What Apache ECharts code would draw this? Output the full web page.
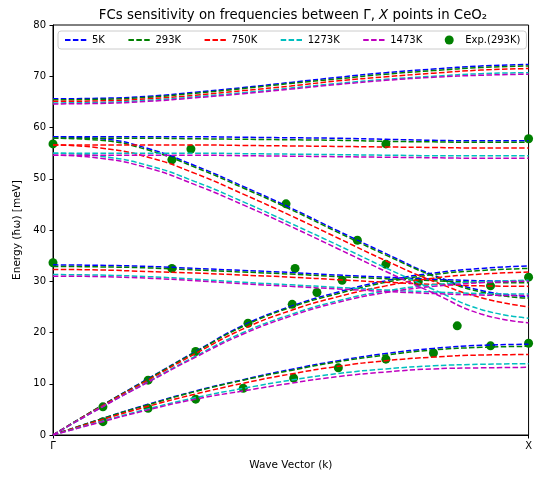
<!DOCTYPE html>
<html>
<head>
<meta charset="utf-8">
<script src="https://cdn.jsdelivr.net/npm/echarts@6/dist/echarts.min.js"></script>
<style>
  html, body { margin: 0; padding: 0; background: #fff; }
  #chart { width: 535px; height: 481px; }
</style>
</head>
<body>
<div id="chart"></div>
<script>
// wave vector from Gamma (0) to X (1)
var kPoints = [0, 0.1, 0.2, 0.3, 0.4, 0.5, 0.6, 0.7, 0.8, 0.9, 1.0];
var xTickLabels = ['Γ', 'X'];
var temps = ['5K', '293K', '750K', '1273K', '1473K'];

// branches per temperature: TA, LA, TO, falling optical, flat optical, top optical  [meV]
var bands5K = [
  [0, 3.1, 6.0, 8.6, 10.8, 12.8, 14.5, 15.9, 16.9, 17.5, 17.7],
  [0, 5.6, 11.0, 16.3, 21.4, 25.1, 27.9, 30.1, 31.6, 32.5, 33.0],
  [33.2, 33.1, 32.9, 32.5, 32.1, 31.7, 31.2, 30.8, 30.4, 30.1, 30.0],
  [58.2, 57.8, 55.9, 52.5, 48.5, 44.3, 39.8, 35.4, 31.2, 28.2, 27.0],
  [58.2, 58.2, 58.2, 58.2, 58.1, 58.0, 57.9, 57.7, 57.5, 57.4, 57.4],
  [65.6, 65.7, 66.1, 66.9, 67.8, 68.8, 69.8, 70.7, 71.4, 72.0, 72.3]
];
var bands293K = [
  [0, 3.1, 5.9, 8.5, 10.7, 12.6, 14.3, 15.6, 16.6, 17.1, 17.3],
  [0, 5.6, 10.9, 16.2, 21.2, 24.9, 27.6, 29.8, 31.3, 32.1, 32.5],
  [32.9, 32.8, 32.6, 32.2, 31.8, 31.4, 30.9, 30.5, 30.1, 29.8, 29.7],
  [57.9, 57.5, 55.6, 52.2, 48.2, 44.0, 39.5, 35.1, 31.0, 27.9, 26.7],
  [57.9, 57.9, 57.9, 57.8, 57.7, 57.6, 57.5, 57.3, 57.2, 57.1, 57.1],
  [65.4, 65.5, 65.9, 66.7, 67.6, 68.6, 69.5, 70.4, 71.1, 71.7, 72.0]
];
var bands750K = [
  [0, 2.9, 5.6, 8.0, 10.1, 11.9, 13.4, 14.5, 15.2, 15.6, 15.7],
  [0, 5.5, 10.7, 15.9, 20.7, 24.3, 27.0, 29.1, 30.6, 31.4, 31.8],
  [32.3, 32.2, 31.9, 31.6, 31.2, 30.8, 30.3, 29.8, 29.4, 29.1, 29.0],
  [56.6, 56.0, 54.2, 51.0, 47.0, 42.8, 38.4, 34.0, 30.0, 26.8, 25.0],
  [56.6, 56.6, 56.6, 56.6, 56.5, 56.4, 56.3, 56.2, 56.1, 56.0, 56.0],
  [65.1, 65.2, 65.6, 66.3, 67.2, 68.1, 69.1, 69.9, 70.6, 71.2, 71.5]
];
var bands1273K = [
  [0, 2.6, 5.1, 7.3, 9.1, 10.7, 12.0, 12.9, 13.5, 13.8, 13.9],
  [0, 5.3, 10.4, 15.4, 20.0, 23.5, 26.2, 28.1, 29.3, 29.9, 30.2],
  [31.3, 31.2, 30.9, 30.4, 29.8, 29.3, 28.8, 28.3, 27.9, 27.6, 27.5],
  [55.0, 54.4, 52.6, 49.4, 45.5, 41.3, 37.0, 32.6, 28.4, 24.5, 22.8],
  [55.0, 55.0, 55.0, 55.0, 54.9, 54.8, 54.7, 54.6, 54.5, 54.5, 54.5],
  [64.8, 64.9, 65.3, 66.0, 66.8, 67.7, 68.6, 69.4, 70.0, 70.5, 70.7]
];
var bands1473K = [
  [0, 2.5, 4.9, 7.0, 8.6, 10.1, 11.4, 12.3, 12.9, 13.1, 13.2],
  [0, 5.3, 10.3, 15.2, 19.7, 23.2, 25.9, 27.8, 29.0, 29.7, 30.0],
  [31.0, 30.9, 30.6, 30.1, 29.5, 29.0, 28.5, 28.0, 27.6, 27.3, 27.2],
  [54.6, 54.0, 52.1, 48.8, 44.9, 40.7, 36.3, 31.9, 27.7, 23.6, 21.9],
  [54.6, 54.6, 54.6, 54.6, 54.5, 54.4, 54.3, 54.2, 54.1, 54.0, 54.0],
  [64.6, 64.7, 65.1, 65.8, 66.6, 67.5, 68.4, 69.2, 69.8, 70.2, 70.4]
];
var allBands = [bands5K, bands293K, bands750K, bands1273K, bands1473K];
var colors = ['#0000ff', '#008000', '#ff0000', '#00bfbf', '#bf00bf'];

// experimental points at 293K
var expK = [0, 0, 0.105, 0.105, 0.2, 0.2, 0.25, 0.25, 0.29, 0.3, 0.3, 0.41, 0.40,
            0.49, 0.509, 0.503, 0.506, 0.555, 0.608, 0.60, 0.64, 0.70, 0.70, 0.70,
            0.768, 0.80, 0.85, 0.92, 0.92, 1.0, 1.0, 1.0];
var expE = [56.8, 33.6, 5.5, 2.6, 10.7, 5.2, 53.7, 32.5, 55.8, 16.3, 7.0, 21.8, 9.1,
            45.1, 32.5, 25.5, 11.1, 27.8, 30.2, 13.1, 38.0, 33.3, 56.8, 14.8,
            29.9, 16.0, 21.3, 29.1, 17.4, 57.8, 30.8, 17.9];

var myChart = echarts.init(document.getElementById('chart'));

function pairs(ys) {
  return ys.map(function (y, i) { return [kPoints[i], y]; });
}

function lineSeries(t) {
  return allBands[t].map(function (b) {
    return {
      name: temps[t],
      type: 'line',
      data: pairs(b),
      smooth: 0.5,
      symbol: 'none',
      color: colors[t],
      lineStyle: { color: colors[t], width: 1.5, type: [5.5, 2.4] }
    };
  });
}

var series = [];
series = series.concat(lineSeries(0), lineSeries(1));
series.push({
  name: 'Exp.(293K)',
  type: 'scatter',
  symbolSize: 9,
  color: '#008000',
  itemStyle: { color: '#008000', opacity: 1 },
  data: expK.map(function (k, i) { return [k, expE[i]]; })
});
series = series.concat(lineSeries(2), lineSeries(3), lineSeries(4));

// legend entries: hide the little symbol on line items, keep the dashed stroke
var legendData = temps.map(function (t) {
  return { name: t, itemStyle: { opacity: 0 } };
});
legendData.push({ name: 'Exp.(293K)', icon: 'circle', itemStyle: { color: '#008000', opacity: 1 } });

var option = {
  animation: false,
  backgroundColor: '#fff',
  textStyle: { fontFamily: 'DejaVu Sans' },
  title: {
    text: '{a|FCs sensitivity on frequencies between Γ, }{i|X}{a| points in CeO₂}',
    left: 288,
    top: 4,
    textAlign: 'center',
    textStyle: {
      fontWeight: 'normal',
      rich: {
        a: { fontSize: 13.3, fontFamily: 'DejaVu Sans', fontWeight: 'normal', color: '#000' },
        i: { fontSize: 13.3, fontFamily: 'DejaVu Sans', fontWeight: 'normal', fontStyle: 'italic', color: '#000' }
      }
    }
  },
  legend: {
    data: legendData,
    left: 58,
    top: 31,
    itemWidth: 22,
    itemHeight: 9,
    itemGap: 22.5,
    padding: [4, 6, 4, 6],
    backgroundColor: 'rgba(255,255,255,0.8)',
    borderColor: '#cccccc',
    borderWidth: 1,
    borderRadius: 3,
    textStyle: { fontSize: 10, fontFamily: 'DejaVu Sans', color: '#000' }
  },
  grid: {
    left: 53, right: 2, top: 25, bottom: 46,
    show: true, borderColor: '#000', borderWidth: 1
  },
  xAxis: {
    type: 'value',
    min: 0, max: 1, interval: 1,
    name: 'Wave Vector (k)',
    nameLocation: 'middle',
    nameGap: 25,
    nameTextStyle: { fontSize: 10.5, color: '#000', fontFamily: 'DejaVu Sans' },
    axisLine: { lineStyle: { color: '#000', width: 1 } },
    axisTick: { show: true, length: 3.5, lineStyle: { color: '#000' } },
    axisLabel: {
      fontSize: 10, color: '#000', margin: 6,
      formatter: function (v) { return v === 0 ? xTickLabels[0] : (v === 1 ? xTickLabels[1] : ''); }
    },
    splitLine: { show: false }
  },
  yAxis: {
    type: 'value',
    min: 0, max: 80, interval: 10,
    name: 'Energy (ħω) [meV]',
    nameLocation: 'middle',
    nameGap: 30,
    nameTextStyle: { fontSize: 10.5, color: '#000', fontFamily: 'DejaVu Sans' },
    axisLine: { show: true, lineStyle: { color: '#000', width: 1 } },
    axisTick: { show: true, length: 3.5, lineStyle: { color: '#000' } },
    axisLabel: { fontSize: 10, color: '#000', margin: 7 },
    splitLine: { show: false }
  },
  series: series
};
myChart.setOption(option, true);
</script>
</body>
</html>
